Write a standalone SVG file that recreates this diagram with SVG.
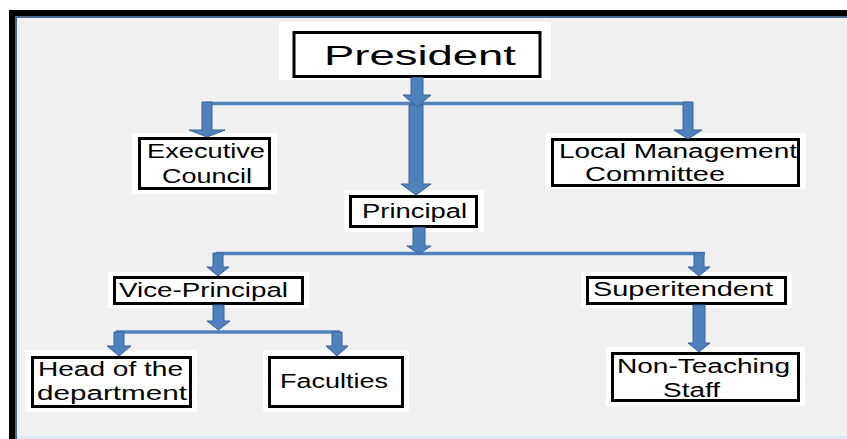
<svg xmlns="http://www.w3.org/2000/svg" width="847" height="439" viewBox="0 0 847 439">
<style>
.halo{fill:#ffffff}
.box{fill:#ffffff;stroke:#000000;stroke-width:3}
.t{font-family:"Liberation Sans","Open Sans",sans-serif;font-size:20px;fill:#000000}
.big{font-size:28px}
.arr{fill:#4f81bd;stroke:#3a6299;stroke-width:1}
.ln{stroke:#4f81bd;stroke-width:3.5;fill:none}
</style>
<rect x="0" y="0" width="847" height="439" fill="#ffffff"/>
<rect x="9" y="10" width="838" height="429" fill="#000000"/>
<rect x="15" y="16" width="832" height="423" fill="#4a6a94"/>
<rect x="17" y="18" width="830" height="421" fill="#f0f0f0"/>
<rect x="17" y="436" width="830" height="3" fill="#dde9f5"/>

<g id="nodes">
<g id="president">
<rect class="halo" x="279" y="22" width="272" height="58"/>
<rect class="box" x="294" y="32.5" width="246" height="44"/>
<text class="t big" x="324" y="65" textLength="192" lengthAdjust="spacingAndGlyphs">President</text>
</g>
<g id="executive">
<rect class="halo" x="132" y="133" width="145" height="61"/>
<rect class="box" x="139.5" y="138.5" width="130" height="50"/>
<text class="t" x="147" y="158" textLength="118" lengthAdjust="spacingAndGlyphs">Executive</text>
<text class="t" x="162" y="183" textLength="90" lengthAdjust="spacingAndGlyphs">Council</text>
</g>
<g id="local">
<rect class="halo" x="546" y="133" width="260" height="56"/>
<rect class="box" x="552.5" y="139.5" width="246" height="46"/>
<text class="t" x="559" y="158" textLength="238" lengthAdjust="spacingAndGlyphs">Local Management</text>
<text class="t" x="585" y="181" textLength="140" lengthAdjust="spacingAndGlyphs">Committee</text>
</g>
<g id="principal">
<rect class="halo" x="344" y="190" width="140" height="42"/>
<rect class="box" x="350.5" y="196.5" width="126" height="30"/>
<text class="t" x="362" y="218" textLength="105" lengthAdjust="spacingAndGlyphs">Principal</text>
</g>
<g id="vice">
<rect class="halo" x="108" y="272" width="201" height="36"/>
<rect class="box" x="114.5" y="277.5" width="188" height="26"/>
<text class="t" x="119" y="297" textLength="169" lengthAdjust="spacingAndGlyphs">Vice-Principal</text>
</g>
<g id="superintendent">
<rect class="halo" x="581" y="272" width="211" height="36"/>
<rect class="box" x="587.5" y="277.5" width="198" height="26"/>
<text class="t" x="593" y="296" textLength="180" lengthAdjust="spacingAndGlyphs">Superitendent</text>
</g>
<g id="head">
<rect class="halo" x="25" y="350" width="172" height="62"/>
<rect class="box" x="32.5" y="357.5" width="158" height="49"/>
<text class="t" x="38" y="376" textLength="145" lengthAdjust="spacingAndGlyphs">Head of the</text>
<text class="t" x="37" y="400" textLength="150" lengthAdjust="spacingAndGlyphs">department</text>
</g>
<g id="faculties">
<rect class="halo" x="263" y="350" width="146" height="62"/>
<rect class="box" x="269.5" y="357.5" width="133" height="49"/>
<text class="t" x="280" y="388" textLength="108" lengthAdjust="spacingAndGlyphs">Faculties</text>
</g>
<g id="nonteaching">
<rect class="halo" x="606" y="347" width="199" height="59"/>
<rect class="box" x="612.5" y="353.5" width="186" height="47"/>
<text class="t" x="617" y="373" textLength="173" lengthAdjust="spacingAndGlyphs">Non-Teaching</text>
<text class="t" x="663" y="397" textLength="57" lengthAdjust="spacingAndGlyphs">Staff</text>
</g>
</g>

<g id="connectors">
<path class="ln" d="M205 103.5 H690"/>
<path class="ln" d="M216 253.5 H705"/>
<path class="ln" d="M116 332 H340"/>
<path class="arr" d="M202 102 H212 V130 H225 L207 137 L189 130 H202 Z"/>
<path class="arr" d="M683 102 H693 V130 H702 L688 139 L674 130 H683 Z"/>
<path class="arr" d="M409 105 H423 V184 H431 L416 195 L401 184 H409 Z"/>
<path class="arr" d="M411 77.5 H423 V95 H431 L417 107 L403 95 H411 Z"/>
<path class="arr" d="M413 227.5 H425 V246 H431 L419 254 L407 246 H413 Z"/>
<path class="arr" d="M213 253 H223 V267 H229 L218 276 L207 267 H213 Z"/>
<path class="arr" d="M694 253 H704 V267 H710 L699 276 L688 267 H694 Z"/>
<path class="arr" d="M213 305 H224 V321 H230 L218.5 330 L207 321 H213 Z"/>
<path class="arr" d="M114 332 H124 V346 H131 L119 356 L107 346 H114 Z"/>
<path class="arr" d="M332 332 H342 V346 H348 L337 356 L326 346 H332 Z"/>
<path class="arr" d="M693 305 H705 V343 H710 L699 352 L688 343 H693 Z"/>
</g>
</svg>
